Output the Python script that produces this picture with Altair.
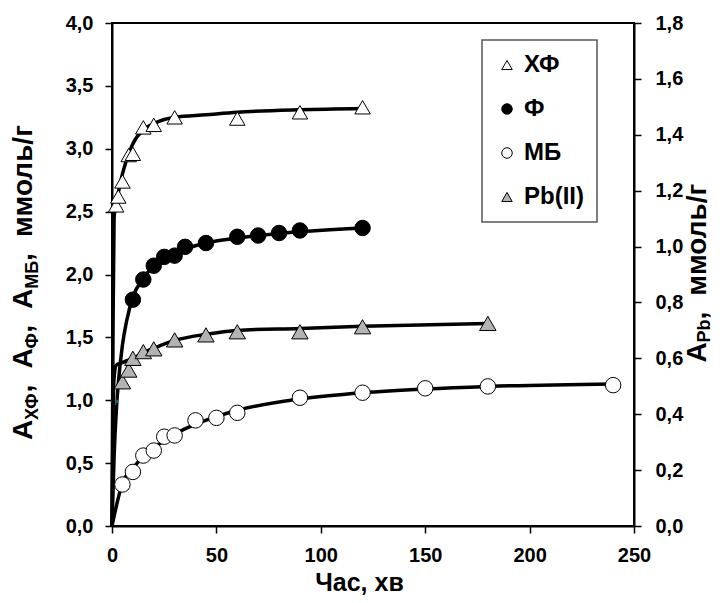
import altair as alt
import pandas as pd

# ---------------- data ----------------
series_names = ["ХФ", "Ф", "МБ", "Pb(II)"]

hf_t = [2, 3, 5, 8, 10, 15, 20, 30, 60, 90, 120]
hf_a = [2.55, 2.62, 2.74, 2.95, 2.96, 3.17, 3.19, 3.25, 3.24, 3.29, 3.33]

f_t = [10, 15, 20, 25, 30, 35, 45, 60, 70, 80, 90, 120]
f_a = [1.80, 1.96, 2.07, 2.14, 2.15, 2.22, 2.25, 2.30, 2.31, 2.33, 2.35, 2.37]

mb_t = [5, 10, 15, 20, 25, 30, 40, 50, 60, 90, 120, 150, 180, 240]
mb_a = [0.33, 0.43, 0.56, 0.60, 0.71, 0.72, 0.84, 0.86, 0.90, 1.02, 1.06, 1.095, 1.11, 1.12]

pb_t = [5, 8, 10, 15, 20, 30, 45, 60, 90, 120, 180]
pb_a = [0.516, 0.558, 0.600, 0.624, 0.634, 0.666, 0.684, 0.695, 0.695, 0.713, 0.725]

# fitted curves
hf_curve_t = [0, 0.5, 1, 2, 3, 5, 8, 10, 15, 20, 30, 45, 60, 90, 120]
hf_curve_a = [0, 1.60, 2.45, 2.58, 2.65, 2.80, 2.96, 3.04, 3.15, 3.20, 3.25, 3.27, 3.29, 3.31, 3.32]

f_curve_t = [0, 1, 2, 3, 5, 7, 10, 15, 20, 30, 45, 60, 90, 120]
f_curve_a = [0, 0.55, 0.90, 1.13, 1.44, 1.63, 1.82, 1.97, 2.07, 2.17, 2.25, 2.29, 2.34, 2.37]

mb_curve_t = [0, 5, 10, 15, 20, 25, 30, 40, 50, 60, 90, 120, 150, 180, 240]
mb_curve_a = [0, 0.34, 0.46, 0.55, 0.62, 0.68, 0.73, 0.81, 0.87, 0.92, 1.01, 1.06, 1.09, 1.11, 1.13]

pb_curve_t = [0, 0.5, 1, 2, 5, 10, 15, 20, 30, 45, 60, 90, 120, 180]
pb_curve_a = [0, 0.40, 0.53, 0.575, 0.585, 0.60, 0.62, 0.636, 0.664, 0.686, 0.70, 0.707, 0.715, 0.725]

# stray mark visible in the picture
stray_t = [1.4]
stray_a = [0.99]

x_ticks = [0, 50, 100, 150, 200, 250]
left_ticks = [0, 0.5, 1.0, 1.5, 2.0, 2.5, 3.0, 3.5, 4.0]
right_ticks = [0, 0.2, 0.4, 0.6, 0.8, 1.0, 1.2, 1.4, 1.6, 1.8]

shapes = ["triangle-up", "circle", "circle", "triangle-up"]
fills = ["white", "black", "white", "#b3b3b3"]
strokes = ["black", "black", "black", "black"]

# ---------------- tables ----------------
def pts(name, t, a):
    return pd.DataFrame({"t": t, "a": a, "s": [name] * len(t)})

left_pts = pd.concat([pts("ХФ", hf_t, hf_a), pts("Ф", f_t, f_a), pts("МБ", mb_t, mb_a)])
right_pts = pts("Pb(II)", pb_t, pb_a)
left_curves = pd.concat([pts("ХФ", hf_curve_t, hf_curve_a), pts("Ф", f_curve_t, f_curve_a),
                         pts("МБ", mb_curve_t, mb_curve_a)])
right_curve = pts("Pb(II)", pb_curve_t, pb_curve_a)
stray = pd.DataFrame({"t": stray_t, "a": stray_a})

FONT = "Liberation Sans"
W, H = 522, 503

xscale = alt.Scale(domain=[0, 250], nice=False, zero=False)
x_enc = alt.X("t:Q", scale=xscale,
              axis=alt.Axis(values=x_ticks, title="Час, хв", format="d",
                            titleX=247, titleAlign="center"))
ly_scale = alt.Scale(domain=[0, 4], nice=False)
ry_scale = alt.Scale(domain=[0, 1.8], nice=False)

comma_expr = "replace(format(datum.value, '.1f'), '.', ',')"
left_axis = alt.Axis(values=left_ticks, labelExpr=comma_expr, title=None, orient="left")
right_axis = alt.Axis(values=right_ticks, labelExpr=comma_expr, title=None, orient="right",
                      labelPadding=14)

legend_def = alt.Legend(title=None)
shape_enc = alt.Shape("s:N", scale=alt.Scale(domain=series_names, range=shapes), legend=legend_def)
fill_enc = alt.Fill("s:N", scale=alt.Scale(domain=series_names, range=fills), legend=legend_def)
stroke_enc = alt.Stroke("s:N", scale=alt.Scale(domain=series_names, range=strokes), legend=legend_def)

left_lines = alt.Chart(left_curves).mark_line(color="black", strokeWidth=3.5, interpolate="monotone").encode(
    x=x_enc, y=alt.Y("a:Q", scale=ly_scale, axis=left_axis), detail="s:N")
left_points = alt.Chart(left_pts).mark_point(filled=True, strokeWidth=1, size=240, opacity=1).encode(
    x=x_enc, y=alt.Y("a:Q", scale=ly_scale, axis=left_axis), shape=shape_enc, fill=fill_enc,
    stroke=stroke_enc)
stray_mark = alt.Chart(stray).mark_point(shape="cross", filled=True, color="#2e8b8b", size=50).encode(
    x=x_enc, y=alt.Y("a:Q", scale=ly_scale, axis=left_axis))

left_layer = alt.layer(left_lines, left_points, stray_mark)

right_line = alt.Chart(right_curve).mark_line(color="black", strokeWidth=3.5, interpolate="monotone").encode(
    x=x_enc, y=alt.Y("a:Q", scale=ry_scale, axis=right_axis))
right_points = alt.Chart(right_pts).mark_point(filled=True, strokeWidth=1, size=270, opacity=1).encode(
    x=x_enc, y=alt.Y("a:Q", scale=ry_scale, axis=right_axis), shape=shape_enc, fill=fill_enc,
    stroke=stroke_enc)
right_layer = alt.layer(right_line, right_points)

# ---------- rotated y-axis titles with subscripts ----------
one = pd.DataFrame({"k": [0]})

def piece(text, x, y, size):
    return alt.Chart(one).mark_text(text=text, angle=270, align="left", baseline="alphabetic",
                                    font=FONT, fontWeight="bold", fontSize=size, color="black").encode(
        x=alt.value(x), y=alt.value(y))

MAIN, SUB = 28, 18
bx, sx = -80, -74
left_title = [
    piece("A", bx, 417, MAIN), piece("ХФ", sx, 397, SUB), piece(",", bx, 369.4, MAIN),
    piece("A", bx, 345.6, MAIN), piece("Ф", sx, 325.4, SUB), piece(",", bx, 309.8, MAIN),
    piece("A", bx, 286, MAIN), piece("МБ", sx, 265.8, SUB), piece(",", bx, 237.9, MAIN),
    piece("ммоль/г", bx, 214.1, MAIN),
]
rbx, rsx = 594, 598
right_title = [
    piece("A", rbx, 339.5, MAIN), piece("Pb", rsx, 319.5, SUB), piece(",", rbx, 296.5, MAIN),
    piece("ммоль/г", rbx, 272.7, MAIN),
]

chart = alt.layer(left_layer, right_layer, *left_title, *right_title).resolve_scale(
    y="independent"
).properties(
    width=W, height=H,
    autosize=alt.AutoSizeParams(type="none"),
    padding={"left": 104, "top": 15, "right": 82, "bottom": 74},
).configure_view(
    stroke="black", strokeWidth=2
).configure_axis(
    grid=False, domainColor="black", domainWidth=2, tickColor="black", tickWidth=1.5,
    tickSize=7, labelFont=FONT, labelFontWeight="bold", labelFontSize=20, labelColor="black",
    labelPadding=12, titleFont=FONT, titleFontWeight="bold", titleFontSize=25, titleColor="black",
    titlePadding=5, labelFlush=False, labelOverlap=False
).configure_legend(
    orient="none", legendX=370, legendY=17, strokeColor="#555555", strokeWidth=1.5,
    padding=13, labelFont=FONT, labelFontSize=24, labelFontWeight="bold", labelColor="black",
    symbolSize=110, symbolStrokeWidth=1, rowPadding=20, labelOffset=5,
    fillColor="white"
)

chart.save("out.html", embed_options={"renderer": "svg", "actions": False})
